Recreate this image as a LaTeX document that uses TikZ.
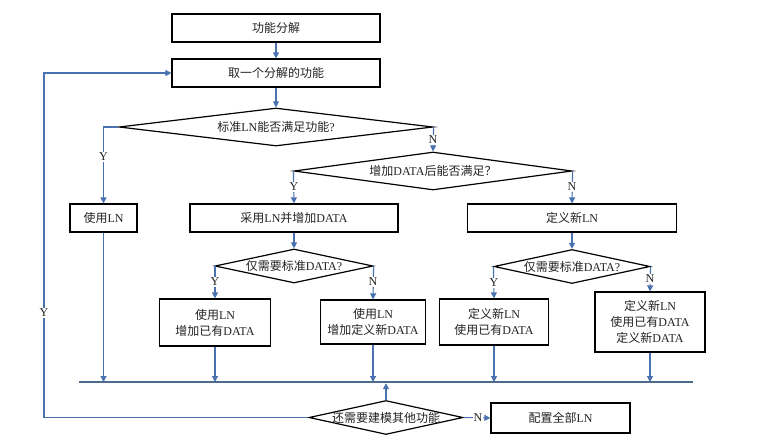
\documentclass[tikz,border=0pt]{standalone}
\usepackage{fontspec}
\setmainfont{Liberation Serif}
\newfontfamily\cjk{Noto Sans CJK SC}
\usetikzlibrary{shapes.geometric,arrows.meta}
\newcommand\zh[1]{{\cjk #1}}
\definecolor{arrc}{RGB}{74,114,176}
\definecolor{busc}{RGB}{76,106,138}
\definecolor{txt}{RGB}{35,35,35}
\tikzset{
  x=1pt, y=-1pt,
  txtfont/.style={font=\fontsize{12}{16}\selectfont, text=txt},
  box/.style={draw=black, line width=1.2pt, minimum height=28pt, inner sep=0pt, align=center, txtfont},
  dia/.style={diamond, draw=black, line width=1.2pt, inner sep=0pt, aspect=1},
  dlab/.style={txtfont},
  arr/.style={draw=arrc, line width=1.1pt, -{Triangle[length=6pt,width=6pt]}},
  lab/.style={fill=white, inner sep=1pt, txtfont},
}
\begin{document}
\begin{tikzpicture}
\useasboundingbox (0,0) rectangle (770,445);
% boxes
\node[box, minimum width=208pt] (b1) at (276,28) {\zh{功能分解}};
\node[box, minimum width=208pt] (b2) at (276,73) {\zh{取一个分解的功能}};
\node[dia, minimum width=314pt, minimum height=38pt, label={[dlab]center:\zh{标准}LN\zh{能否满足功能}?}] (d1) at (276,127) {};
\node[dia, minimum width=278pt, minimum height=38pt, label={[dlab]center:\zh{增加}DATA\zh{后能否满足？}}] (d2) at (433,171) {};
\node[box, minimum width=67pt] (u1) at (103.5,218) {\zh{使用}LN};
\node[box, minimum width=208pt] (b3) at (294,218) {\zh{采用}LN\zh{并增加}DATA};
\node[box, minimum width=209pt] (b4) at (572,218) {\zh{定义新}LN};
\node[dia, minimum width=158pt, minimum height=34pt, label={[dlab]center:\zh{仅需要标准}DATA?}] (d3) at (294,266) {};
\node[dia, minimum width=156pt, minimum height=34pt, label={[dlab]center:\zh{仅需要标准}DATA?}] (d4) at (572,266.5) {};
\node[box, minimum width=111pt, minimum height=47pt] (b5) at (215,322.5) {\zh{使用}LN\\\zh{增加已有}DATA};
\node[box, minimum width=105pt, minimum height=44pt] (b6) at (373,322) {\zh{使用}LN\\\zh{增加定义新}DATA};
\node[box, minimum width=109pt, minimum height=46pt] (b7) at (494,322) {\zh{定义新}LN\\\zh{使用已有}DATA};
\node[box, minimum width=110pt, minimum height=60pt] (b8) at (650,322) {\zh{定义新}LN\\\zh{使用已有}DATA\\\zh{定义新}DATA};
\node[dia, minimum width=154pt, minimum height=34pt, label={[dlab]center:\zh{还需要建模其他功能}}] (d5) at (386,417.5) {};
\node[box, minimum width=139pt, minimum height=30pt] (b9) at (560.5,418) {\zh{配置全部}LN};
% bus
\coordinate (busL) at (79,382);
\coordinate (busR) at (693,382);
\coordinate (loopB) at (44,417.5);
\draw[busc, line width=2.2pt] (busL) -- (busR);
% connectors
\draw[arr] (b1) -- (b2);
\draw[arr] (b2) -- (d1);
\draw[arr] (d1.west) -| (u1.north);
\node[lab] (y1) at (103.5,157) {Y};
\draw[arr] (d1.east) -- (d2.north);
\node[lab] (n1) at (433,140) {N};
\draw[arr] (d2.west) -- (b3.north);
\node[lab] (y2) at (294,187) {Y};
\draw[arr] (d2.east) -- (b4.north);
\node[lab] (n2) at (572,187) {N};
\draw[arr] (b3) -- (d3);
\draw[arr] (b4) -- (d4);
\draw[arr] (d3.west) -| (b5.north);
\node[lab] (y3) at (215,282) {Y};
\draw[arr] (d3.east) -- (b6.north);
\node[lab] (n3) at (373,282) {N};
\draw[arr] (d4.west) -- (b7.north);
\node[lab] (y4) at (494,283) {Y};
\draw[arr] (d4.east) -- (b8.north);
\node[lab] (n4) at (650,279) {N};
\draw[arr] (u1.south) -- (u1.south |- busL);
\draw[arr] (b5.south) -- (b5.south |- busL);
\draw[arr] (b6.south) -- (b6.south |- busL);
\draw[arr] (b7.south) -- (b7.south |- busL);
\draw[arr] (b8.south) -- (b8.south |- busL);
\draw[arr] (d5.north) -- ([yshift=-1.2pt]d5.north |- busL);
\draw[arr] (d5.east) -- (b9.west);
\node[lab] (n5) at (478,417.5) {N};
\draw[arr] (d5.west) -- (loopB) |- (b2.west);
\node[lab] (y5) at (44,313) {Y};
\end{tikzpicture}
\end{document}
